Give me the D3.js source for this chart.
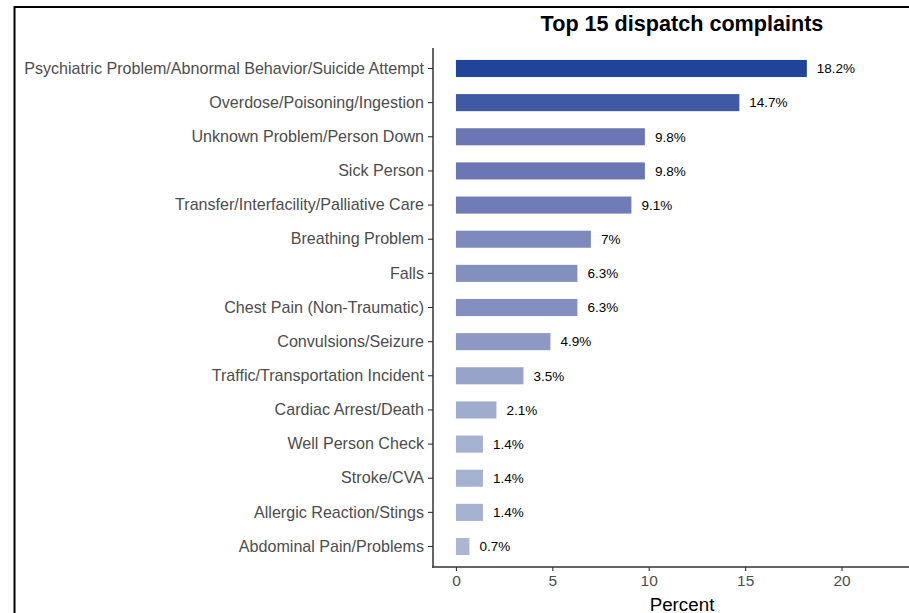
<!DOCTYPE html>
<html>
<head>
<meta charset="utf-8">
<script src="https://cdn.jsdelivr.net/npm/d3@7"></script>
<style>
  html, body { margin: 0; padding: 0; background: #fff; }
  svg { display: block; font-family: "Liberation Sans", Arial, sans-serif; }
</style>
</head>
<body>
<svg id="chart" width="909" height="613"></svg>
<script>
const categories = [
  "Psychiatric Problem/Abnormal Behavior/Suicide Attempt",
  "Overdose/Poisoning/Ingestion",
  "Unknown Problem/Person Down",
  "Sick Person",
  "Transfer/Interfacility/Palliative Care",
  "Breathing Problem",
  "Falls",
  "Chest Pain (Non-Traumatic)",
  "Convulsions/Seizure",
  "Traffic/Transportation Incident",
  "Cardiac Arrest/Death",
  "Well Person Check",
  "Stroke/CVA",
  "Allergic Reaction/Stings",
  "Abdominal Pain/Problems"
];
const percents = [18.2, 14.7, 9.8, 9.8, 9.1, 7, 6.3, 6.3, 4.9, 3.5, 2.1, 1.4, 1.4, 1.4, 0.7];
const labels = ["18.2%", "14.7%", "9.8%", "9.8%", "9.1%", "7%", "6.3%", "6.3%", "4.9%", "3.5%", "2.1%", "1.4%", "1.4%", "1.4%", "0.7%"];
const xTicks = [0, 5, 10, 15, 20];
const title = "Top 15 dispatch complaints";
const xTitle = "Percent";

const svg = d3.select("#chart");
const W = 909, H = 613;
const panel = { left: 433, right: 931, top: 48, bottom: 567 };

// outer frame (top and left edges visible)
svg.append("line").attr("x1", 14).attr("x2", W).attr("y1", 7).attr("y2", 7)
  .attr("stroke", "#000").attr("stroke-width", 2);
svg.append("line").attr("x1", 14.5).attr("x2", 14.5).attr("y1", 6).attr("y2", H)
  .attr("stroke", "#000").attr("stroke-width", 2);

const x = d3.scaleLinear().domain([-1.19, 24.64]).range([panel.left, panel.right]);
const y = d3.scaleBand().domain(categories).range([panel.top, panel.bottom])
  .paddingInner(0.5).paddingOuter(0.35);
const color = d3.scaleLinear().domain([0.7, 9.8, 18.2])
  .range(["#aab6d2", "#6b77b4", "#21449b"]);

const data = categories.map((c, i) => ({ c, v: percents[i], l: labels[i] }));

// bars
svg.append("g").selectAll("rect").data(data).join("rect")
  .attr("x", x(0))
  .attr("y", d => y(d.c))
  .attr("width", d => x(d.v) - x(0))
  .attr("height", y.bandwidth())
  .attr("fill", d => color(d.v));

// value labels
svg.append("g").selectAll("text").data(data).join("text")
  .attr("x", d => x(d.v) + 10)
  .attr("y", d => y(d.c) + y.bandwidth() / 2)
  .attr("dy", "0.35em")
  .attr("font-size", 13.5)
  .attr("fill", "#000")
  .text(d => d.l);

// y axis
const yAxis = d3.axisLeft(y).tickSize(5).tickPadding(4).tickSizeOuter(0);
const gy = svg.append("g").attr("transform", `translate(${panel.left},0)`).call(yAxis);
gy.select(".domain").remove();
gy.selectAll(".tick line").attr("stroke", "#333").attr("stroke-width", 1.1);
gy.selectAll(".tick text").attr("font-size", 16.1).attr("fill", "#4d4d4d")
  .attr("font-family", "'Liberation Sans', Arial, sans-serif");
svg.append("line").attr("x1", panel.left).attr("x2", panel.left)
  .attr("y1", panel.top).attr("y2", panel.bottom + 0.75)
  .attr("stroke", "#333").attr("stroke-width", 1.5);

// x axis
const xAxis = d3.axisBottom(x).tickValues(xTicks).tickSize(4).tickPadding(4).tickSizeOuter(0);
const gx = svg.append("g").attr("transform", `translate(0,${panel.bottom})`).call(xAxis);
gx.select(".domain").remove();
gx.selectAll(".tick line").attr("stroke", "#333").attr("stroke-width", 1.1);
gx.selectAll(".tick text").attr("font-size", 15.5).attr("fill", "#4d4d4d")
  .attr("font-family", "'Liberation Sans', Arial, sans-serif");
svg.append("line").attr("x1", panel.left - 0.75).attr("x2", panel.right)
  .attr("y1", panel.bottom).attr("y2", panel.bottom)
  .attr("stroke", "#333").attr("stroke-width", 1.5);

// titles
const cx = (panel.left + panel.right) / 2;
svg.append("text").attr("x", cx).attr("y", 31).attr("text-anchor", "middle")
  .attr("font-size", 21.6).attr("font-weight", "bold").attr("fill", "#000").text(title);
svg.append("text").attr("x", cx).attr("y", 610.5).attr("text-anchor", "middle")
  .attr("font-size", 18.8).attr("fill", "#000").text(xTitle);
</script>
</body>
</html>
